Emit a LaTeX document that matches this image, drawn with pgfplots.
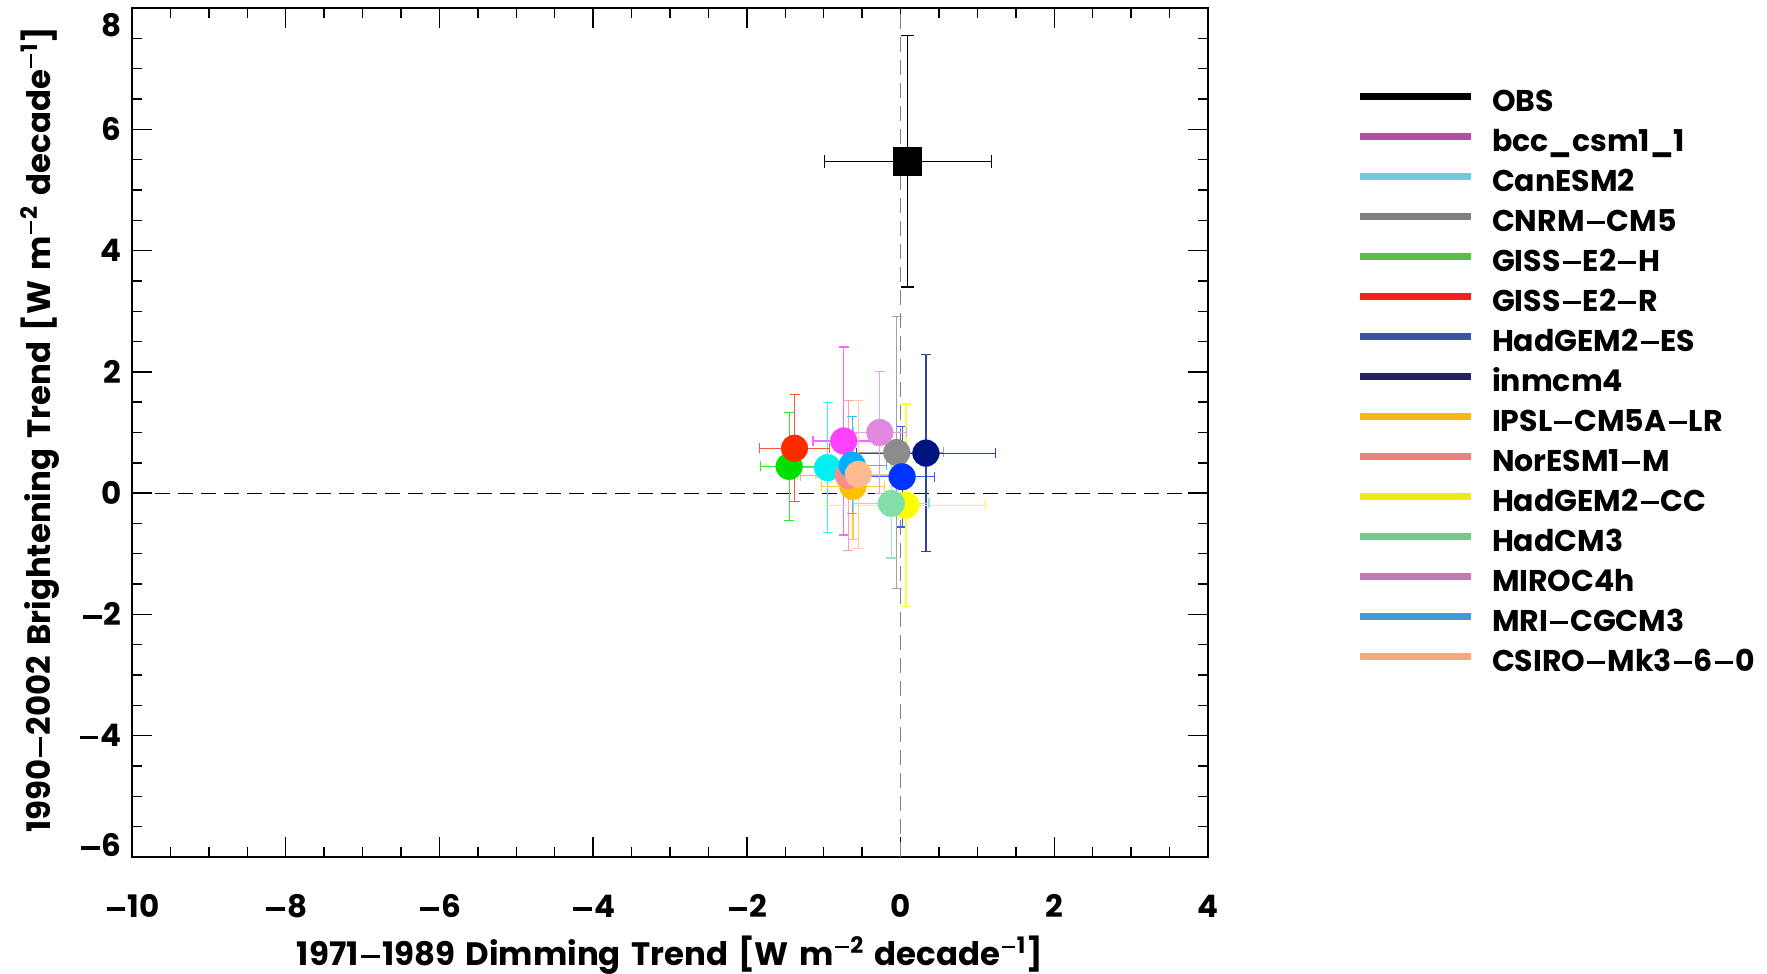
\documentclass[border=0pt]{standalone}
\usepackage{fontspec}
\setmainfont{Poppins}[WordSpace=1.5]
\usepackage{pgfplots}
\pgfplotsset{compat=1.18}
\newcommand{\mn}{\kern0.07em\rule[0.24em]{0.6em}{0.1em}\kern0.07em}

% marker (fill) colours
\definecolor{mBcc}{HTML}{FF40FF}
\definecolor{mCan}{HTML}{00F0F0}
\definecolor{mCnrm}{HTML}{8C8C8C}
\definecolor{mGissH}{HTML}{00E000}
\definecolor{mGissR}{HTML}{FF2A00}
\definecolor{mHadES}{HTML}{0033FF}
\definecolor{mInm}{HTML}{001480}
\definecolor{mIpsl}{HTML}{FFC000}
\definecolor{mNor}{HTML}{FA8C8C}
\definecolor{mHadCC}{HTML}{FFFF00}
\definecolor{mHadCM}{HTML}{80E0A8}
\definecolor{mMiroc}{HTML}{E088E0}
\definecolor{mMri}{HTML}{00B0FF}
\definecolor{mCsiro}{HTML}{FFBB90}
% legend colours
\definecolor{lBcc}{HTML}{B050A0}
\definecolor{lCan}{HTML}{6ACCDC}
\definecolor{lCnrm}{HTML}{808080}
\definecolor{lGissH}{HTML}{60BB46}
\definecolor{lGissR}{HTML}{EE2222}
\definecolor{lHadES}{HTML}{3A54A4}
\definecolor{lInm}{HTML}{262262}
\definecolor{lIpsl}{HTML}{FBB517}
\definecolor{lNor}{HTML}{F07F7F}
\definecolor{lHadCC}{HTML}{EFE91B}
\definecolor{lHadCM}{HTML}{7AC68E}
\definecolor{lMiroc}{HTML}{C07AB8}
\definecolor{lMri}{HTML}{4499D4}
\definecolor{lCsiro}{HTML}{F8A880}

\pgfplotsset{
  ebar/.style={forget plot, only marks, mark=none, color=#1,
    error bars/.cd, x dir=both, x explicit, y dir=both, y explicit,
    error mark=|,
    error bar style={line width=0.6pt},
    error mark options={line width=0.6pt, mark size=2.5pt}},
  dot/.style={forget plot, only marks, mark=*, mark size=6.7pt,
    mark options={draw=#1, fill=#1, line width=0.1pt}},
}

\begin{document}
\begin{tikzpicture}
\begin{axis}[
  scale only axis, width=538pt, height=424.5pt,
  xmin=-10, xmax=4, ymin=-6, ymax=8,
  xtick={-10,-8,...,4}, ytick={-6,-4,...,8},
  xticklabels={\mn10,\mn8,\mn6,\mn4,\mn2,0,2,4},
  yticklabels={\raisebox{5.75pt}[\height][\depth]{\mn6},\mn4,\mn2,0,2,4,6,\raisebox{-8.5pt}[\height][\depth]{8}},
  minor tick num=3,
  tick align=inside,
  major tick length=10pt, minor tick length=5pt,
  every tick/.style={black, line width=0.7pt},
  axis line style={line width=0.9pt},
  tick label style={font=\fontsize{15.5}{15.5}\bfseries},
  xticklabel style={anchor=base, yshift=-30.5pt},
  yticklabel style={anchor=east, xshift=-1.7pt},
  label style={font=\fontsize{16.2}{16.2}\bfseries},
  xlabel={1971\mn1989 Dimming Trend [W m\textsuperscript{\mn2} decade\textsuperscript{\mn1}]},
  ylabel={1990\mn2002 Brightening Trend [W m\textsuperscript{\mn2} decade\textsuperscript{\mn1}]},
  xlabel style={at={(rel axis cs:0.5,-0.1284)}, anchor=base},
  ylabel style={at={(rel axis cs:-0.0762,0.5035)}, anchor=base},
  clip=false,
  legend image code/.code={\draw[#1, line width=3.3pt] (0pt,0.35em) -- (55.5pt,0.35em);},
  legend style={at={(rel axis cs:1.132,0.9115)}, anchor=north west, draw=none, fill=none,
    font=\fontsize{15}{15}\bfseries,
    nodes={inner sep=0pt, text height=12pt, text depth=4pt},
    row sep=4.0pt,
    /tikz/every odd column/.style={column sep=9pt}},
  legend cell align=left,
]
% zero lines
\addplot[forget plot, black, line width=0.6pt, dash pattern=on 7.5pt off 4pt] coordinates {(-10,0) (4,0)};
\addplot[forget plot, gray, line width=0.9pt, dash pattern=on 7.5pt off 4pt] coordinates {(0,-6) (0,8)};

% legend images
\addlegendimage{draw=black}\addlegendentry{OBS}
\addlegendimage{draw=lBcc}\addlegendentry{bcc\_csm1\_1}
\addlegendimage{draw=lCan}\addlegendentry{CanESM2}
\addlegendimage{draw=lCnrm}\addlegendentry{CNRM\mn CM5}
\addlegendimage{draw=lGissH}\addlegendentry{GISS\mn E2\mn H}
\addlegendimage{draw=lGissR}\addlegendentry{GISS\mn E2\mn R}
\addlegendimage{draw=lHadES}\addlegendentry{HadGEM2\mn ES}
\addlegendimage{draw=lInm}\addlegendentry{inmcm4}
\addlegendimage{draw=lIpsl}\addlegendentry{IPSL\mn CM5A\mn LR}
\addlegendimage{draw=lNor}\addlegendentry{NorESM1\mn M}
\addlegendimage{draw=lHadCC}\addlegendentry{HadGEM2\mn CC}
\addlegendimage{draw=lHadCM}\addlegendentry{HadCM3}
\addlegendimage{draw=lMiroc}\addlegendentry{MIROC4h}
\addlegendimage{draw=lMri}\addlegendentry{MRI\mn CGCM3}
\addlegendimage{draw=lCsiro}\addlegendentry{CSIRO\mn Mk3\mn 6\mn 0}

% OBS
\addplot[forget plot, only marks, mark=none, color=black,
  error bars/.cd, x dir=both, x explicit, y dir=both, y explicit,
  error mark=|,
  error bar style={line width=0.6pt},
  error mark options={line width=0.6pt, mark size=3.3pt}]
  coordinates {(0.095,5.47) +- (1.09,2.07)};
\addplot[forget plot, only marks, mark=square*, mark size=7pt, mark options={draw=black, fill=black}]
  coordinates {(0.095,5.47)};

% models: error bars, then marker
\addplot[ebar=mBcc!80!white]   coordinates {(-0.74,0.86) +- (0.40,1.55)};
\addplot[dot=mBcc]             coordinates {(-0.74,0.86)};
\addplot[ebar=mCan!80!white]   coordinates {(-0.95,0.42) +- (0.47,1.07)};
\addplot[dot=mCan]             coordinates {(-0.95,0.42)};
\addplot[ebar=mCnrm!80!white]  coordinates {(-0.05,0.67) +- (0.61,2.24)};
\addplot[dot=mCnrm]            coordinates {(-0.05,0.67)};
\addplot[ebar=mGissH!80!white] coordinates {(-1.45,0.44) +- (0.37,0.885)};
\addplot[dot=mGissH]           coordinates {(-1.45,0.44)};
\addplot[ebar=mGissR!80!white] coordinates {(-1.38,0.74) +- (0.46,0.88)};
\addplot[dot=mGissR]           coordinates {(-1.38,0.74)};
\addplot[ebar=mHadES!80!white] coordinates {(0.02,0.27) +- (0.42,0.83)};
\addplot[dot=mHadES]           coordinates {(0.02,0.27)};
\addplot[ebar=mInm!80!white]   coordinates {(0.33,0.66) +- (0.90,1.62)};
\addplot[dot=mInm]             coordinates {(0.33,0.66)};
\addplot[ebar=mIpsl!80!white]  coordinates {(-0.62,0.11) +- (0.41,0.88)};
\addplot[dot=mIpsl]            coordinates {(-0.62,0.11)};
\addplot[ebar=mNor!80!white]   coordinates {(-0.68,0.29) +- (0.62,1.24)};
\addplot[dot=mNor]             coordinates {(-0.68,0.29)};
\addplot[ebar=mHadCC!80!white] coordinates {(0.07,-0.20) +- (1.03,1.67)};
\addplot[dot=mHadCC]           coordinates {(0.07,-0.20)};
\addplot[ebar=mHadCM!80!white] coordinates {(-0.12,-0.17) +- (0.49,0.90)};
\addplot[dot=mHadCM]           coordinates {(-0.12,-0.17)};
\addplot[ebar=mMiroc!80!white] coordinates {(-0.27,1.00) +- (0.35,1.00)};
\addplot[dot=mMiroc]           coordinates {(-0.27,1.00)};
\addplot[ebar=mMri!80!white]   coordinates {(-0.63,0.46) +- (0.45,0.80)};
\addplot[dot=mMri]             coordinates {(-0.63,0.46)};
\addplot[ebar=mCsiro!80!white] coordinates {(-0.55,0.31) +- (0.55,1.22)};
\addplot[dot=mCsiro]           coordinates {(-0.55,0.31)};
\end{axis}
\pgfresetboundingbox
\path ([xshift=-66pt,yshift=-58.5pt]current axis.south west) rectangle ([xshift=279.5pt,yshift=4pt]current axis.north east);
\end{tikzpicture}
\end{document}
